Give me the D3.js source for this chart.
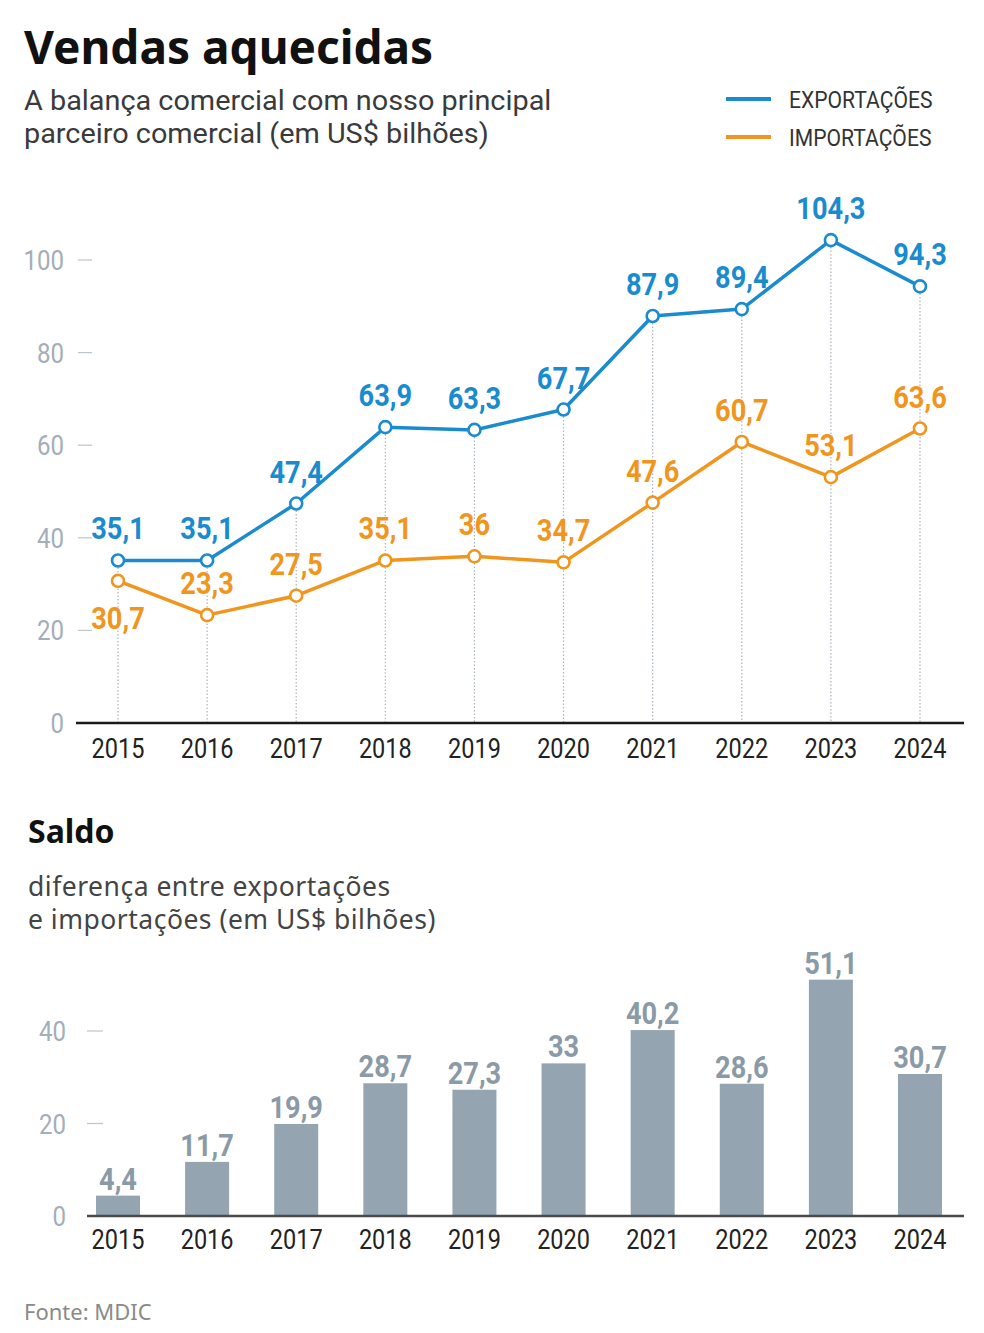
<!DOCTYPE html>
<html>
<head>
<meta charset="utf-8">
<script src="https://cdn.jsdelivr.net/npm/d3@7"></script>
<style>
  body { margin: 0; background: #fff; }
  .cond { font-family: Roboto, "Liberation Sans", sans-serif; }
  .sans { font-family: "Noto Sans", "Open Sans", sans-serif; }
</style>
</head>
<body>
<svg id="chart" width="984" height="1333"></svg>
<script>
// data
var years = ["2015", "2016", "2017", "2018", "2019", "2020", "2021", "2022", "2023", "2024"];
var exportsVals = [35.1, 35.1, 47.4, 63.9, 63.3, 67.7, 87.9, 89.4, 104.3, 94.3];
var importsVals = [30.7, 23.3, 27.5, 35.1, 36, 34.7, 47.6, 60.7, 53.1, 63.6];
var saldoVals = [4.4, 11.7, 19.9, 28.7, 27.3, 33, 40.2, 28.6, 51.1, 30.7];
var lineTicks = [0, 20, 40, 60, 80, 100];
var barTicks = [0, 20, 40];
var importsBelow = ["2015"]; // labels drawn under the point

var blue = "#1a8bcf", orange = "#f0951e", tickGray = "#a4aeb8", barGray = "#94a4b0";
var fmt = function(v) { return String(v).replace(".", ","); };

var svg = d3.select("#chart");

// narrow text: no condensed face installed, so squeeze Roboto horizontally
function narrow(sel, sx) {
    return sel.attr("class", "cond")
        .attr("transform", function(d, i) {
            var tx = +d3.select(this).attr("x"), ty = +d3.select(this).attr("y");
            return "translate(" + tx + "," + ty + ") scale(" + sx + ",1)";
        })
        .attr("x", 0).attr("y", 0);
}

// titles
svg.append("text").attr("class", "sans").attr("x", 24).attr("y", 64)
    .attr("font-size", 46).attr("font-weight", 700).attr("fill", "#111")
    .text("Vendas aquecidas");
narrow(svg.append("text").attr("x", 24).attr("y", 110)
    .attr("font-size", 28).attr("fill", "#3a3a3a")
    .text("A balança comercial com nosso principal"), 1.03);
narrow(svg.append("text").attr("x", 24).attr("y", 143)
    .attr("font-size", 28).attr("fill", "#3a3a3a")
    .text("parceiro comercial (em US$ bilhões)"), 1.03);

// legend
var legend = [{name: "EXPORTAÇÕES", color: blue}, {name: "IMPORTAÇÕES", color: orange}];
legend.forEach(function(d, i) {
    var ly = 99 + i * 38;
    svg.append("line").attr("x1", 726).attr("x2", 771).attr("y1", ly).attr("y2", ly)
        .attr("stroke", d.color).attr("stroke-width", 4);
    narrow(svg.append("text").attr("x", 789).attr("y", ly + 9)
        .attr("font-size", 24).attr("fill", "#333").text(d.name), 0.88);
});

// line chart
var x = d3.scalePoint().domain(years).range([118, 920]);
var y = d3.scaleLinear().domain([0, 100]).range([723, 260]);

var g1 = svg.append("g");

lineTicks.forEach(function(t) {
    narrow(g1.append("text").attr("x", 64).attr("y", y(t) + 10)
        .attr("text-anchor", "end").attr("font-size", 28).attr("fill", tickGray).text(t), 0.86);
    if (t > 0) {
        g1.append("line").attr("x1", 78).attr("x2", 92).attr("y1", y(t)).attr("y2", y(t))
            .attr("stroke", "#bcc4cc").attr("stroke-width", 1.2);
    }
});

// dotted guides
g1.selectAll(".guide").data(years).enter().append("line")
    .attr("x1", function(d) { return x(d); })
    .attr("x2", function(d) { return x(d); })
    .attr("y1", function(d, i) { return y(exportsVals[i]); })
    .attr("y2", y(0))
    .attr("stroke", "#aab4be").attr("stroke-width", 1.2).attr("stroke-dasharray", "1.5,2");

g1.append("line").attr("x1", 76).attr("x2", 964).attr("y1", y(0)).attr("y2", y(0))
    .attr("stroke", "#1a1a1a").attr("stroke-width", 2.5);

narrow(g1.selectAll(".yr").data(years).enter().append("text")
    .attr("x", function(d) { return x(d); }).attr("y", 758)
    .attr("text-anchor", "middle").attr("font-size", 28).attr("fill", "#222")
    .text(function(d) { return d; }), 0.84);

function drawSeries(vals, color, below) {
    var line = d3.line()
        .x(function(d, i) { return x(years[i]); })
        .y(function(d) { return y(d); });
    g1.append("path").datum(vals).attr("d", line).attr("fill", "none")
        .attr("stroke", color).attr("stroke-width", 3.5).attr("stroke-linejoin", "round");
    g1.selectAll(null).data(vals).enter().append("circle")
        .attr("cx", function(d, i) { return x(years[i]); })
        .attr("cy", function(d) { return y(d); })
        .attr("r", 6).attr("fill", "#fff").attr("stroke", color).attr("stroke-width", 2.6);
    narrow(g1.selectAll(null).data(vals).enter().append("text")
        .attr("x", function(d, i) { return x(years[i]); })
        .attr("y", function(d, i) { return below.indexOf(years[i]) >= 0 ? y(d) + 48 : y(d) - 21; })
        .attr("text-anchor", "middle").attr("font-size", 32).attr("font-weight", 700)
        .attr("fill", color).text(function(d) { return fmt(d); }), 0.85);
}
drawSeries(exportsVals, blue, []);
drawSeries(importsVals, orange, importsBelow);

// Saldo section
svg.append("text").attr("class", "sans").attr("x", 28).attr("y", 843)
    .attr("font-size", 32).attr("font-weight", 700).attr("fill", "#111").text("Saldo");
svg.append("text").attr("class", "sans").attr("x", 28).attr("y", 896)
    .attr("font-size", 26.5).attr("letter-spacing", 0.5).attr("fill", "#444").text("diferença entre exportações");
svg.append("text").attr("class", "sans").attr("x", 28).attr("y", 929)
    .attr("font-size", 26.5).attr("letter-spacing", 0.5).attr("fill", "#444").text("e importações (em US$ bilhões)");

var yb = d3.scaleLinear().domain([0, 40]).range([1216, 1031]);
var g2 = svg.append("g");

barTicks.forEach(function(t) {
    narrow(g2.append("text").attr("x", 66).attr("y", yb(t) + 10)
        .attr("text-anchor", "end").attr("font-size", 28).attr("fill", tickGray).text(t), 0.86);
    if (t > 0) {
        g2.append("line").attr("x1", 87).attr("x2", 103).attr("y1", yb(t)).attr("y2", yb(t))
            .attr("stroke", "#bcc4cc").attr("stroke-width", 1.2);
    }
});

g2.selectAll("rect").data(saldoVals).enter().append("rect")
    .attr("x", function(d, i) { return x(years[i]) - 22; })
    .attr("width", 44)
    .attr("y", function(d) { return yb(d); })
    .attr("height", function(d) { return yb(0) - yb(d); })
    .attr("fill", barGray);

narrow(g2.selectAll(".bl").data(saldoVals).enter().append("text")
    .attr("x", function(d, i) { return x(years[i]); })
    .attr("y", function(d) { return yb(d) - 6; })
    .attr("text-anchor", "middle").attr("font-size", 32).attr("font-weight", 700)
    .attr("fill", "#8a9aa7").text(function(d) { return fmt(d); }), 0.85);

g2.append("line").attr("x1", 87).attr("x2", 964).attr("y1", yb(0)).attr("y2", yb(0))
    .attr("stroke", "#4a4a4a").attr("stroke-width", 2.5);

narrow(g2.selectAll(".yr").data(years).enter().append("text")
    .attr("x", function(d) { return x(d); }).attr("y", 1249)
    .attr("text-anchor", "middle").attr("font-size", 28).attr("fill", "#222")
    .text(function(d) { return d; }), 0.84);

svg.append("text").attr("class", "sans").attr("x", 24).attr("y", 1320)
    .attr("font-size", 22).attr("fill", "#8a8a8a").text("Fonte: MDIC");
</script>
</body>
</html>
